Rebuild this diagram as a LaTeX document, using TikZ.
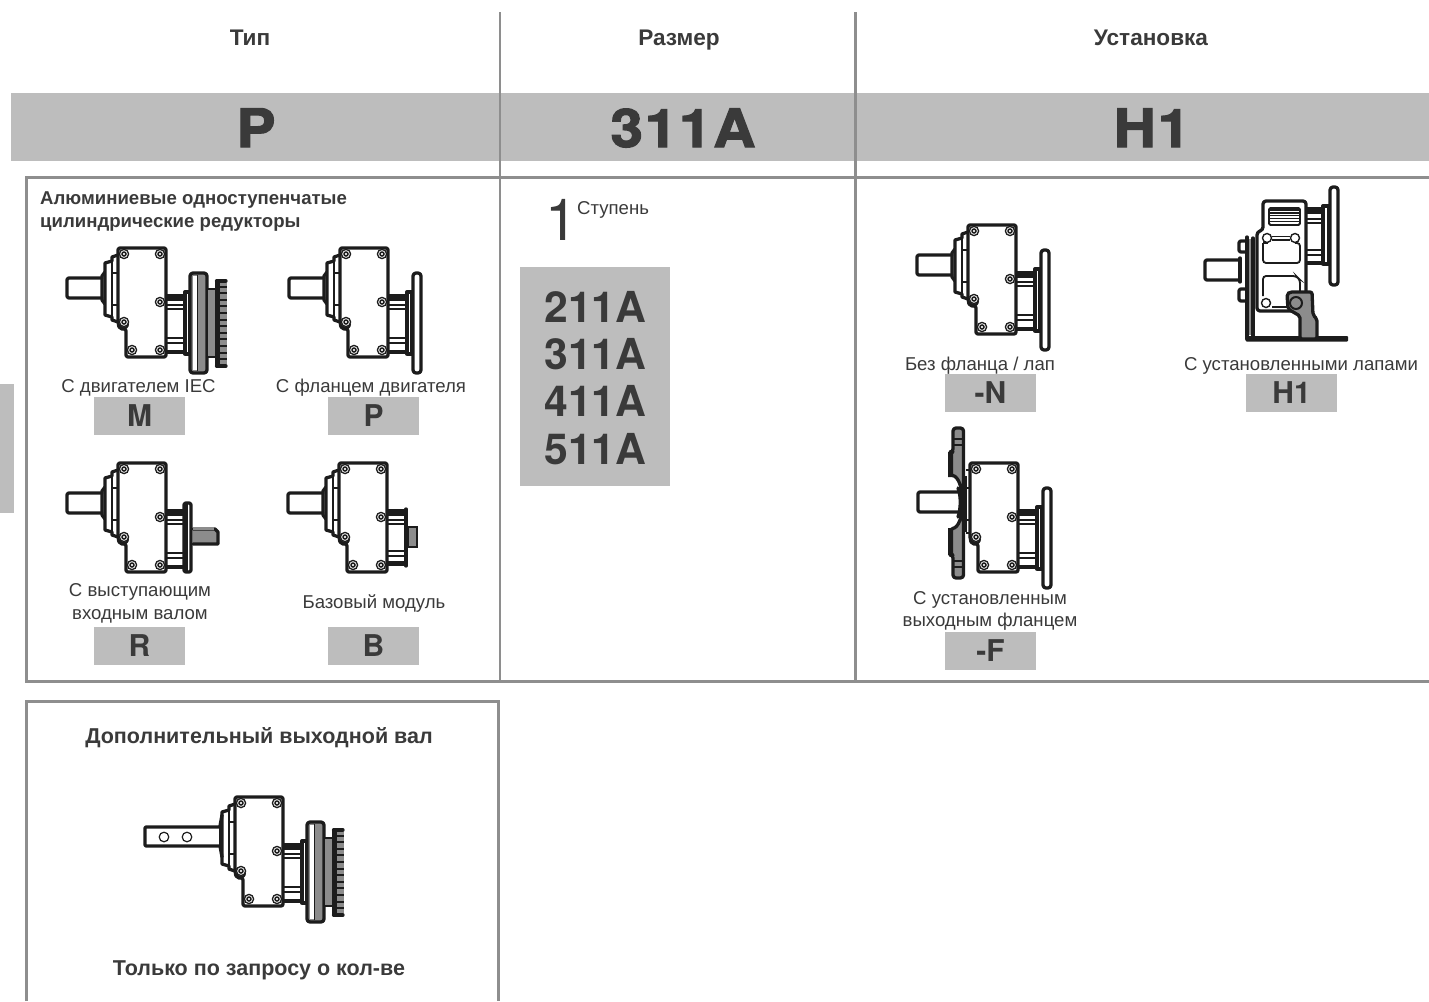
\documentclass[tikz,border=0pt]{standalone}
\usepackage{fontspec}
\setmainfont{Liberation Sans}
\newfontfamily\heros{TeX Gyre Heros}
\newfontfamily\bigfont[BoldFeatures={FakeBold=2.2,FakeStretch=1.1}]{TeX Gyre Heros}
\newfontfamily\bigwide[BoldFeatures={FakeBold=2.2,FakeStretch=1.1,LetterSpace=3.5}]{TeX Gyre Heros}
\definecolor{ink}{HTML}{1C1C1C}
\definecolor{txt}{HTML}{3A3A3A}
\definecolor{band}{HTML}{BDBDBD}
\definecolor{frameg}{HTML}{8E8E8E}
\definecolor{partg}{HTML}{8C8C8C}
\tikzset{
 gl/.style={draw=ink,line width=3.3pt,line join=round,line cap=round},
 thinl/.style={draw=ink,line width=1.8pt},
 framel/.style={draw=frameg,line width=3pt},
 vl/.style={draw=frameg,line width=2.4pt},
 captext/.style={font=\fontsize{18.6}{22.5}\selectfont,text=txt,inner sep=0pt,align=center,anchor=base},
 headtext/.style={font=\bfseries\fontsize{22.6}{24}\selectfont,text=txt,inner sep=0pt,anchor=base},
 subhead/.style={font=\bfseries\fontsize{21.5}{24}\selectfont,text=txt,inner sep=0pt,anchor=base},
 labelbox/.style={fill=band,minimum width=91pt,minimum height=38pt,inner sep=0pt,font=\heros\bfseries\fontsize{30}{32}\selectfont,text=txt},
 bigtext/.style={font=\bigfont\bfseries\fontsize{53}{56}\selectfont,text=txt,inner sep=0pt,anchor=base},
 bigwidetext/.style={font=\bigwide\bfseries\fontsize{53}{56}\selectfont,text=txt,inner sep=0pt,anchor=base},
 sizetext/.style={font=\heros\bfseries\fontsize{42.7}{44}\selectfont,text=txt,inner sep=0pt},
}
\newcommand{\gbolt}[2]{%
 \fill[white] (#1,#2) circle (5);
 \draw[draw=ink,line width=1.3pt] (#1,#2) circle (4.6);
 \draw[draw=ink,line width=1.5pt] (#1,#2) circle (2);}
\newcommand{\ghousing}{%
 \draw[gl,rounded corners=2pt,fill=white] (0,0) -- (48,0) -- (48,109) -- (8,109) -- (8,81) -- (2,81) -- (0,76) -- cycle;
 \fill[ink] (5,76) circle (6);
 \gbolt{6}{6}\gbolt{42}{6}\gbolt{42}{54}\gbolt{14}{102}\gbolt{42}{102}\gbolt{6}{74}}
\newcommand{\gcover}{%
 \draw[gl,fill=white] (0,7) -- (-6,9) -- (-6,13) -- (-13,15) -- (-13,67) -- (-6,69) -- (-6,72) -- (0,74);
 \draw[thinl] (-6,13) -- (-6,69) (-6,25) -- (0,25) (-6,57) -- (0,57);}
\newcommand{\gstub}{%
 \draw[gl] (-13,24) -- (-16,28) -- (-16,52) -- (-13,56);
 \draw[gl,rounded corners=2pt] (-16,30) -- (-51,30) -- (-51,50) -- (-16,50);}
\newcommand{\gneck}{%
 \fill[ink] (48,46) rectangle (67,53);
 \draw[gl] (48,104) -- (67,104) (67,46) -- (67,104);
 \draw[thinl] (48,57) -- (67,57) (48,61) -- (67,61) (48,90) -- (67,90) (48,95) -- (67,95);
 \draw[gl,fill=white] (67,44) -- (72,44) -- (72,106) -- (67,106) -- cycle;}
\newcommand{\gdisk}[1]{%
 \draw[gl,rounded corners=3pt,fill=partg] (72,25) rectangle (#1,125);
 \fill[white] (74.5,28) rectangle (79,122);
 \draw[draw=ink,line width=1.5pt] (79.5,27) -- (79.5,123);}
\newcommand{\gplate}{%
 \draw[gl,rounded corners=3pt,fill=white] (73,25) rectangle (81,125);}
\newcommand{\gfan}{%
 \draw[draw=ink,line width=1.5pt,fill=partg] (89,41) rectangle (98,109);
 \fill[ink] (97,33) rectangle (102,118);
 \fill[partg] (102,35) rectangle (109,116);
 \draw[gl] (98.5,33) -- (108,33) (98.5,118) -- (108,118);
 \foreach \k in {0,...,12} {\draw[draw=ink,line width=2pt] (101,38.5+6.6*\k) -- (109,38.5+6.6*\k);}}
\newcommand{\gfull}{\gstub\gcover\gneck\ghousing}
\begin{document}
\begin{tikzpicture}[x=1pt,y=-1pt]
\useasboundingbox (0,0) rectangle (1429,1001);
\fill[band] (11,93) rectangle (1429,161);
\fill[band] (0,384) rectangle (14,513);
\draw[framel] (1429,177) -- (26,177) -- (26,681) -- (1429,681);
\draw[vl] (500,12) -- (500,681);
\draw[vl] (855.5,12) -- (855.5,681);
\draw[framel] (26,1001) -- (26,701) -- (498,701) -- (498,1001);
\fill[band] (520,267) rectangle (670,486);
% headers
\node[headtext] (hType) at (250,45) {Тип};
\node[headtext] (hSize) at (679,45) {Размер};
\node[headtext] (hMount) at (1151,45) {Установка};
\node[bigtext] (bigP) at (256,147) {P};
\node[bigwidetext] (big311) at (683,147) {311A};
\node[bigwidetext] (bigH) at (1152,147) {H1};
\node[font=\bfseries\fontsize{18.6}{23}\selectfont,text=txt,inner sep=0pt,anchor=base west] (tTitleA) at (40,204) {Алюминиевые одноступенчатые};
\node[font=\bfseries\fontsize{18.6}{23}\selectfont,text=txt,inner sep=0pt,anchor=base west] (tTitleB) at (40,227) {цилиндрические редукторы};
% M
\begin{scope}[shift={(118,248)}]\gfull\gdisk{89}\gfan\end{scope}
% P
\begin{scope}[shift={(340,248)}]\gfull\gplate\end{scope}
% R
\begin{scope}[shift={(118,463)}]
 \gstub\gcover
 \fill[ink] (48,46) rectangle (65,53);
 \draw[gl] (48,104) -- (65,104);
 \draw[thinl] (48,57) -- (65,57) (48,61) -- (65,61) (48,90) -- (65,90) (48,95) -- (65,95);
 \draw[gl,fill=partg] (75,66) -- (97,66) -- (100,69) -- (100,81) -- (75,81);
 \fill[partg] (75,64) rectangle (96,67);
 \draw[gl,rounded corners=2pt,fill=white] (66,40) rectangle (73,109);
 \fill[ink] (66,40) rectangle (70,109);
 \ghousing
\end{scope}
% B
\begin{scope}[shift={(339,463)}]
 \gstub\gcover
 \fill[ink] (48,46) rectangle (67,53);
 \fill[ink] (48,98) rectangle (67,103);
 \draw[gl] (67,46) -- (67,103);
 \draw[thinl] (48,57) -- (67,57) (48,61) -- (67,61) (48,88) -- (67,88) (48,93) -- (67,93);
 \draw[draw=ink,line width=1.5pt,fill=partg] (69,64) rectangle (78,84);
 \ghousing
\end{scope}
% N
\begin{scope}[shift={(968,225)}]\gfull\gplate\end{scope}
% F
\begin{scope}[shift={(970,463)}]
 \gneck\gplate
 \draw[gl,rounded corners=2pt] (-12,29) -- (-52,29) -- (-52,49) -- (-12,49);
 \draw[thinl] (-4,13) -- (-4,69) (-4,25) -- (0,25) (-4,57) -- (0,57) (-4,7) -- (0,7) (-4,70) -- (0,70);
 \draw[gl,rounded corners=3pt,fill=partg] (-17,-35) -- (-6.5,-35) -- (-6.5,115) -- (-17,115) -- (-17,92) -- (-20,92) -- (-20,66)
   .. controls (-15,65) and (-12,63) .. (-9,54) .. controls (-7,45) and (-7,33) .. (-9,25) .. controls (-12,15) and (-15,13) .. (-20,12)
   -- (-20,-11) -- (-17,-11) -- cycle;
 \fill[ink] (-22,-11) rectangle (-17,14) (-22,65) rectangle (-17,92);
 \draw[thinl] (-17,-24) -- (-7,-24) (-17,-18) -- (-7,-18) (-17,98) -- (-7,98) (-17,104) -- (-7,104);
 \draw[gl] (-12,25) .. controls (-9,33) and (-9,45) .. (-12,54);
 \ghousing
\end{scope}
% H1
\begin{scope}
 \fill[ink] (1306,207) rectangle (1323,214);
 \draw[gl] (1306,263) -- (1323,263) (1323,207) -- (1323,263);
 \draw[thinl] (1306,219) -- (1323,219) (1306,223) -- (1323,223) (1306,250) -- (1323,250) (1306,255) -- (1323,255);
 \draw[gl,fill=white] (1323,206) rectangle (1329,264);
 \draw[gl,rounded corners=3pt,fill=white] (1330,187) rectangle (1338,285);
 % tabs and shaft
 \draw[gl,rounded corners=2pt] (1246,241) -- (1239,241) -- (1239,252) -- (1246,252);
 \draw[gl,rounded corners=2pt] (1246,289) -- (1239,289) -- (1239,301) -- (1246,301);
 \draw[gl] (1240,258) -- (1240,282);
 \draw[gl,rounded corners=2pt] (1240,260) -- (1205,260) -- (1205,280) -- (1240,280);
 % housing
 \draw[gl,rounded corners=3pt,fill=white] (1263,201) -- (1306,201) -- (1306,311) -- (1257,311) -- (1257,232) -- (1263,230) -- cycle;
 \draw[thinl,rounded corners=1.5pt] (1269,208) -- (1300,208) -- (1300,225) -- (1269,225) -- cycle;
 \foreach \k in {0,...,5} {\draw[draw=ink,line width=1.3pt] (1269,210+2.9*\k) -- (1300,210+2.9*\k);}
 \draw[thinl] (1272,236.5) -- (1290,236.5) (1272,240) -- (1290,240);
 \draw[thinl,rounded corners=3pt] (1263,243) -- (1263,263) -- (1300,263) -- (1300,243) -- (1295,243);
 \draw[thinl] (1263,243) -- (1268,243);
 \draw[thinl,rounded corners=3pt] (1263,296) -- (1263,276) -- (1296,276) -- (1300,280) -- (1300,300);
 \draw[thinl] (1272,307) -- (1288,307);
 \foreach \p/\q in {1267/238,1295/238,1266/303} {\draw[draw=ink,line width=1.4pt,fill=white] (\p,\q) circle (4.5);}
 % bracket
 \fill[ink,rounded corners=1pt] (1245.5,336) rectangle (1348,341.5);
 \draw[gl] (1247,237) -- (1247,339);
 \draw[draw=partg,line width=3pt] (1250,239) -- (1250,335);
 \draw[gl] (1253,238) -- (1253,337);
 % foot
 \draw[gl,rounded corners=2pt,fill=partg] (1287,294) -- (1290,292) -- (1312,292) -- (1313,315) -- (1317,319) -- (1317,339) -- (1300,339) -- (1300,316) -- (1288,309) -- cycle;
 \draw[draw=ink,line width=2pt,fill=partg] (1296,303) circle (6);
\end{scope}
% extra output shaft
\begin{scope}[shift={(235,797)}]
 \gcover
 \draw[gl,rounded corners=1pt] (-15,30) -- (-90,30) -- (-90,49) -- (-15,49);
 \draw[gl] (-15,29) -- (-13,18);
 \draw[gl] (-15,49) -- (-13,60);
 \draw[thinl] (-15,30) -- (-15,49);
 \draw[draw=ink,line width=1.2pt] (-71,40) circle (4.8) (-48,40) circle (4.8);
 \gneck\ghousing\gdisk{89}\gfan
\end{scope}
% captions and labels
\node[captext] (cM) at (138.5,392) {С двигателем IEC};
\node[captext] (cP) at (371,392) {С фланцем двигателя};
\node[captext] (cRa) at (140,596) {С выступающим};
\node[captext] (cRb) at (140,619) {входным валом};
\node[captext] (cB) at (374,608) {Базовый модуль};
\node[captext] (cN) at (980,370) {Без фланца / лап};
\node[captext] (cH) at (1301,370) {С установленными лапами};
\node[captext] (cFa) at (990,604) {С установленным};
\node[captext] (cFb) at (990,626) {выходным фланцем};
\node[labelbox] (lM) at (139.5,416) {M};
\node[labelbox] (lP) at (373.5,416) {P};
\node[labelbox] (lR) at (139.5,646) {R};
\node[labelbox] (lB) at (373.5,646) {B};
\node[labelbox] (lN) at (990.5,393) {-N};
\node[labelbox] (lH) at (1291.5,393) {H1};
\node[labelbox] (lF) at (990.5,651) {-F};
% size
\node[font=\heros\fontsize{58}{60}\selectfont,text=txt,inner sep=0pt,anchor=base] (one) at (562,240) {1};
\node[font=\fontsize{18.6}{20}\selectfont,text=txt,inner sep=0pt,anchor=base west] (stage) at (577,214) {Ступень};
\node[sizetext] (s2) at (595.5,307) {211A};
\node[sizetext] (s3) at (595.5,354) {311A};
\node[sizetext] (s4) at (595.5,401) {411A};
\node[sizetext] (s5) at (595.5,449) {511A};
\node[subhead] (tExtra) at (259,743) {Дополнительный выходной вал};
\node[subhead] (tReq) at (259,975) {Только по запросу о кол-ве};
\end{tikzpicture}
\end{document}
